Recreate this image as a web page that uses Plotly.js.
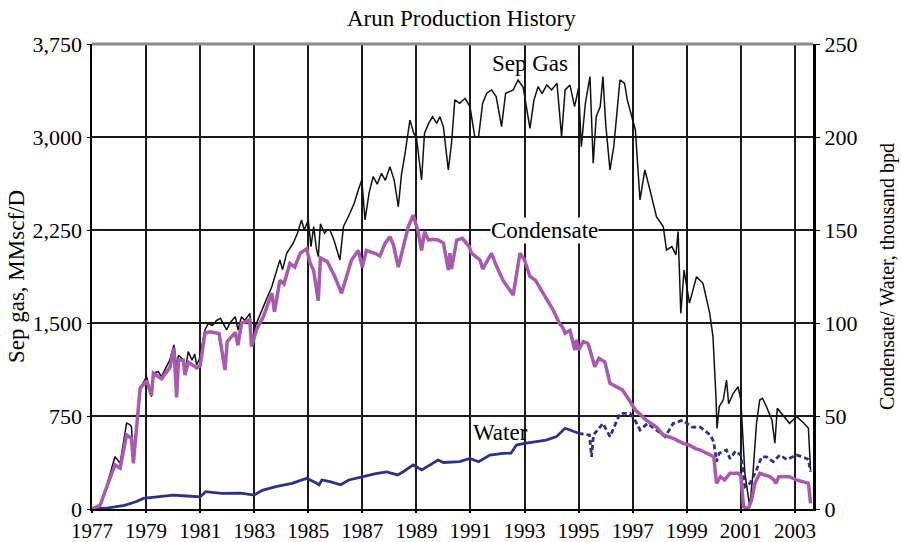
<!DOCTYPE html>
<html>
<head>
<meta charset="utf-8">
<script src="https://cdn.plot.ly/plotly-3.0.1.min.js"></script>
<style>html,body{margin:0;padding:0;background:#fff;}#chart{width:901px;height:542px;}</style>
</head>
<body>
<div id="chart"></div>
<script>
// ---- Data ----
const gasYears = [1977.0,1977.2,1977.36,1977.6,1977.85,1978.04,1978.28,1978.4,1978.46,1978.53,1978.78,1979.02,1979.2,1979.27,1979.45,1979.57,1979.88,1980.03,1980.13,1980.2,1980.38,1980.44,1980.56,1980.7,1980.8,1980.87,1980.97,1981.18,1981.3,1981.45,1981.6,1981.75,1981.98,1982.1,1982.3,1982.4,1982.53,1982.65,1982.84,1982.9,1983.05,1983.34,1983.5,1983.65,1983.8,1983.95,1984.05,1984.2,1984.44,1984.6,1984.75,1984.85,1985.0,1985.1,1985.2,1985.3,1985.37,1985.45,1985.6,1985.7,1985.8,1985.95,1986.17,1986.3,1986.54,1986.7,1986.85,1986.98,1987.1,1987.25,1987.4,1987.55,1987.71,1987.85,1988.02,1988.18,1988.33,1988.45,1988.58,1988.76,1988.9,1989.0,1989.19,1989.3,1989.45,1989.6,1989.75,1989.87,1990.0,1990.18,1990.3,1990.42,1990.6,1990.8,1990.98,1991.16,1991.3,1991.45,1991.6,1991.78,1991.95,1992.15,1992.3,1992.58,1992.76,1992.95,1993.2,1993.35,1993.5,1993.65,1993.82,1994.0,1994.2,1994.37,1994.5,1994.68,1994.85,1995.0,1995.1,1995.25,1995.42,1995.54,1995.65,1995.8,1995.9,1996.0,1996.16,1996.3,1996.53,1996.7,1996.8,1996.96,1997.1,1997.27,1997.45,1997.64,1997.88,1998.13,1998.25,1998.45,1998.6,1998.68,1998.78,1998.9,1999.1,1999.36,1999.6,1999.85,1999.97,2000.08,2000.12,2000.2,2000.35,2000.47,2000.55,2000.72,2000.9,2001.0,2001.15,2001.33,2001.45,2001.58,2001.7,2001.8,2001.95,2002.15,2002.26,2002.35,2002.55,2002.8,2003.06,2003.3,2003.5,2003.58];
const gasValues = [0,10,48,234,422,370,693,680,664,370,976,1067,905,1097,1107,1067,1202,1323,1150,1240,1202,1100,1269,1200,1250,1161,1210,1444,1497,1480,1520,1538,1444,1500,1551,1444,1551,1520,1578,1350,1480,1632,1712,1793,1900,2008,1930,2062,2143,2223,2331,2250,2331,2116,2277,2100,2035,2300,2223,2250,2250,2170,2008,2277,2385,2465,2573,2653,2331,2550,2680,2620,2707,2650,2761,2650,2438,2700,2868,3137,3030,3000,2653,3030,3110,3164,3110,3164,3080,2734,2950,3299,3272,3312,3245,3003,3003,3272,3353,3379,3326,3083,3353,3379,3460,3400,3070,3300,3406,3350,3420,3380,3433,3003,3380,3420,3245,3395,2922,3272,3487,2788,3164,3245,3487,3110,2734,2922,3460,3433,3299,3164,3057,2492,2734,2573,2357,2277,2089,2116,2050,2237,1578,1927,1660,1873,1820,1578,1390,905,650,825,879,1040,850,933,986,880,288,20,288,691,879,893,825,718,530,812,760,691,745,700,651,315];

const condYears = [1977.0,1977.3,1977.6,1977.85,1978.04,1978.28,1978.46,1978.53,1978.78,1979.02,1979.2,1979.27,1979.57,1979.88,1980.03,1980.13,1980.2,1980.38,1980.44,1980.56,1980.87,1981.0,1981.18,1981.36,1981.7,1981.92,1982.0,1982.3,1982.4,1982.53,1982.84,1982.9,1983.1,1983.34,1983.65,1983.75,1983.95,1984.1,1984.32,1984.5,1984.7,1984.94,1985.05,1985.2,1985.37,1985.45,1985.7,1985.98,1986.23,1986.4,1986.6,1986.85,1987.0,1987.15,1987.47,1987.65,1987.84,1988.02,1988.15,1988.33,1988.5,1988.7,1988.88,1989.05,1989.19,1989.3,1989.45,1989.6,1989.8,1990.0,1990.18,1990.24,1990.3,1990.49,1990.7,1990.95,1991.04,1991.35,1991.45,1991.78,1991.95,1992.2,1992.58,1992.83,1993.0,1993.2,1993.4,1993.69,1994.06,1994.3,1994.4,1994.5,1994.68,1994.86,1994.92,1995.0,1995.17,1995.35,1995.6,1995.75,1995.97,1996.16,1996.4,1996.62,1996.87,1997.1,1997.5,1997.88,1998.13,1998.5,1998.87,1999.1,1999.3,1999.5,1999.87,2000.0,2000.1,2000.25,2000.4,2000.6,2000.9,2001.0,2001.1,2001.27,2001.4,2001.52,2001.7,2002.07,2002.2,2002.3,2002.4,2002.8,2003.06,2003.3,2003.5,2003.58];
const condValues = [0,2,14,23.7,22,39.8,38,24.7,64.9,69,61,73,70,76,86.6,60,80,80,72,79,75.8,77,94.6,95.3,94.4,74.7,90,95,88,99.8,101.6,87.3,97,103.4,116,106,123,121,132,130,137.5,140,133,128,112,135,133,125,116,124.6,133.9,139,130,139,137.5,136,142.8,146.4,142,130,140,151.8,158,150,139,149,144.6,145,144.6,143,128.5,137.5,129,144.6,145.5,141,137.5,133.9,129,137.5,131,123,115,137.5,133.9,125,123,116,107,99.5,98,94.5,96,85.5,91,85.5,90,89,76.5,81,79,67.6,65.8,64,58.6,53.2,47.8,44,39.8,38,35.3,34.4,32.6,31.7,29,28,13.8,17.4,15.6,19.2,19.2,18,1.2,0,4.8,13.8,19.2,17.4,16,13.8,17.4,17.4,15.6,14.7,13.8,3];

const waterYears = [1977.0,1977.5,1978.2,1978.65,1978.9,1979.4,1980.0,1980.5,1981.0,1981.2,1981.8,1982.5,1983.0,1983.3,1983.8,1984.4,1984.94,1985.2,1985.4,1985.5,1985.8,1986.2,1986.5,1987.03,1987.5,1987.9,1988.3,1988.5,1988.88,1989.2,1989.5,1989.8,1990.0,1990.3,1990.6,1990.98,1991.3,1991.72,1992.2,1992.5,1992.7,1993.0,1993.45,1993.8,1994.18,1994.5,1994.68,1995.0,1995.4,1995.48,1995.55,1995.9,1996.16,1996.53,1996.9,1997.05,1997.27,1997.55,1997.88,1998.2,1998.5,1998.85,1999.2,1999.5,1999.87,2000.0,2000.1,2000.2,2000.47,2000.6,2000.8,2001.0,2001.15,2001.35,2001.58,2001.77,2001.95,2002.2,2002.44,2002.7,2003.06,2003.3,2003.5,2003.58];
const waterValues = [0,0.4,2,4,5.7,6.6,7.5,7,6.5,9.3,8.4,8.5,7.5,10,12,13.8,16.5,14.7,13,15.6,14.7,13,15.6,17.4,19,19.9,18.3,19.9,23.7,21,23.7,26.3,25,25.4,25.5,27.2,25.4,29,29.9,30,34.4,35.3,36.2,37,38.9,43.4,42.5,40.7,39.8,28,39.8,46,38.9,51.4,51.4,48.7,42.5,46,42.5,38.9,46,47.8,44,44,39.8,36,25.4,30,31.7,27,31,29,12,14,21,28,28,25.4,29,26.6,29,28,26.6,20];
const waterDashFrom = 1995.0; // water drawn dashed from here on

const xTicks = [1977,1979,1981,1983,1985,1987,1989,1991,1993,1995,1997,1999,2001,2003];
const gasTicks = [0,750,1500,2250,3000,3750];
const liquidTicks = [0,50,100,150,200,250];

// ---- Build traces ----
const splitIdx = waterYears.findIndex(v => v >= waterDashFrom);
const waterSolid = {x: waterYears.slice(0, splitIdx + 1), y: waterValues.slice(0, splitIdx + 1)};
const waterDash = {x: waterYears.slice(splitIdx), y: waterValues.slice(splitIdx)};

const font = 'Liberation Serif, Times New Roman, serif';
const traces = [
  {x: waterSolid.x, y: waterSolid.y, yaxis: 'y2', type: 'scatter', mode: 'lines',
   line: {color: '#2e3286', width: 2.8}, hoverinfo: 'skip'},
  {x: waterDash.x, y: waterDash.y, yaxis: 'y2', type: 'scatter', mode: 'lines',
   line: {color: '#2e3286', width: 2.8, dash: '5px,3px'}, hoverinfo: 'skip'},
  {x: gasYears, y: gasValues, yaxis: 'y', type: 'scatter', mode: 'lines',
   line: {color: '#111111', width: 1.5}, hoverinfo: 'skip'},
  {x: condYears, y: condValues, yaxis: 'y2', type: 'scatter', mode: 'lines',
   line: {color: '#a85aae', width: 3.5}, hoverinfo: 'skip'}
];

const layout = {
  width: 901, height: 542,
  margin: {l: 92, r: 88, t: 44, b: 33},
  paper_bgcolor: '#ffffff', plot_bgcolor: '#ffffff',
  showlegend: false,
  font: {family: font, size: 21, color: '#000'},
  title: {text: 'Arun Production History', font: {family: font, size: 23, color: '#000'},
          x: 0.512, xanchor: 'center', y: 0.966, yanchor: 'middle'},
  xaxis: {
    range: [1977, 2003.67], tickmode: 'array', tickvals: xTicks, ticktext: xTicks.map(String),
    showgrid: true, gridcolor: '#1a1a1a', gridwidth: 2,
    showline: true, linecolor: '#000', linewidth: 2,
    ticks: 'outside', ticklen: 2, tickcolor: '#000', tickwidth: 2,
    tickfont: {family: font, size: 21, color: '#000'}, zeroline: false
  },
  yaxis: {
    range: [0, 3750], tickmode: 'array', tickvals: gasTicks, tickformat: ',',
    showgrid: true, gridcolor: '#1a1a1a', gridwidth: 2,
    showline: true, linecolor: '#000', linewidth: 2.5,
    ticks: 'outside', ticklen: 3, tickcolor: '#000',
    tickfont: {family: font, size: 22, color: '#000'}, zeroline: false,
    title: {text: 'Sep gas, MMscf/D', font: {family: font, size: 23, color: '#000'}, standoff: 2}
  },
  yaxis2: {
    range: [0, 250], tickmode: 'array', tickvals: liquidTicks, overlaying: 'y', side: 'right',
    showgrid: false, showline: true, linecolor: '#000', linewidth: 3,
    ticks: 'outside', ticklen: 4, tickcolor: '#000',
    tickfont: {family: font, size: 22, color: '#000'}, zeroline: false,
    title: {text: 'Condensate/ Water, thousand bpd', font: {family: font, size: 20, color: '#000'}, standoff: 24}
  },
  shapes: [
    {type: 'line', xref: 'paper', yref: 'paper', x0: 0, x1: 1, y0: 1, y1: 1,
     line: {color: '#8a8a8a', width: 3}}
  ],
  annotations: [
    {x: 1993.2, y: 3589, xref: 'x', yref: 'y', text: 'Sep Gas', showarrow: false,
     font: {family: font, size: 23, color: '#000'}},
    {x: 1993.75, y: 2250, xref: 'x', yref: 'y', text: 'Condensate', showarrow: false,
     bgcolor: '#ffffff', font: {family: font, size: 23, color: '#000'}, borderpad: 0},
    {x: 1992.1, y: 613, xref: 'x', yref: 'y', text: 'Water', showarrow: false,
     font: {family: font, size: 23, color: '#000'}}
  ]
};

Plotly.newPlot('chart', traces, layout, {displayModeBar: false, staticPlot: true});
</script>
</body>
</html>
